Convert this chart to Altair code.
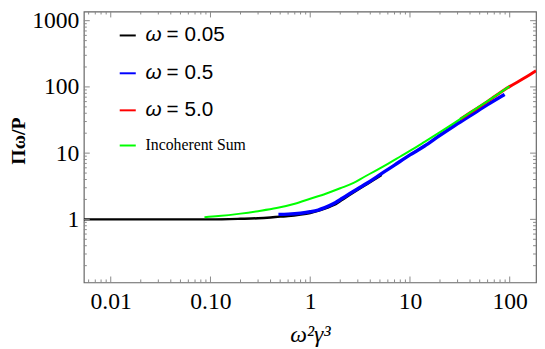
import altair as alt
import pandas as pd
import numpy as np

# ---- data ----
black_x = [0.0054, 0.02, 0.1, 0.2, 0.3, 0.4, 0.5, 0.6, 0.8, 1.0, 1.2, 1.4, 1.6, 1.8, 2.1, 2.5, 3.0, 3.7, 4.45, 5.2]
black_y = [1.0, 1.0, 1.0, 1.02, 1.04, 1.07, 1.1, 1.12, 1.18, 1.25, 1.34, 1.45, 1.57, 1.7, 1.98, 2.35, 2.8, 3.4, 4.05, 4.7]

blue_x = [0.48, 0.6, 0.8, 1.0, 1.2, 1.4, 1.6, 1.8, 2.1, 2.5, 3.0, 3.7, 4.45, 5.5, 7.0, 10.0, 14.0, 20.0, 27.4, 40.0, 60.0, 89.0]
blue_y = [1.19, 1.2, 1.24, 1.3, 1.38, 1.5, 1.64, 1.8, 2.08, 2.45, 2.9, 3.5, 4.2, 5.2, 6.6, 9.4, 12.8, 18.6, 25.5, 36.5, 54.0, 77.0]

green_x = [0.087, 0.12, 0.2, 0.3, 0.46, 0.7, 1.0, 1.43, 2.0, 2.72, 3.5, 4.45, 6.0, 8.0, 11.0, 14.0, 20.0, 27.4, 40.0, 60.0, 99.5]
green_y = [1.08, 1.12, 1.22, 1.33, 1.48, 1.72, 2.05, 2.44, 2.95, 3.55, 4.4, 5.36, 6.9, 8.9, 11.8, 14.8, 20.8, 28.2, 41.0, 61.0, 102.0]

red_x = [31.9, 40.0, 60.0, 99.5, 140.0, 183.5]
red_y = [32.5, 40.6, 60.5, 101.0, 136.0, 176.0]

series_names = ["ω = 0.05", "ω = 0.5", "ω = 5.0", "Incoherent Sum"]
legend_values = ["= 0.05", "= 0.5", "= 5.0"]
series_colors = ["#000000", "#0000ff", "#ff0000", "#00ff00"]

x_tick_values = [0.01, 0.1, 1, 10, 100]
x_tick_labels = ["0.01", "0.10", "1", "10", "100"]
y_tick_values = [1, 10, 100, 1000]
y_tick_labels = ["1", "10", "100", "1000"]

# ---- layout ----
W, H = 459, 275
XDOM = [0.005376, 183.5]
YDOM = [0.1116, 1375]
FRAME = "#666666"
TICK = "#888888"
SERIF = "Liberation Serif"

xscale = alt.Scale(type="log", domain=XDOM, nice=False)
yscale = alt.Scale(type="log", domain=YDOM, nice=False)

x_label_expr = "[" + ",".join("'%s'" % s for s in x_tick_labels) + "][round(log(datum.value)/LN10)+2]"
y_label_expr = "[" + ",".join("'%s'" % s for s in y_tick_labels) + "][round(log(datum.value)/LN10)]"

xaxis = alt.Axis(values=x_tick_values, labelExpr=x_label_expr, ticks=False, domain=False, grid=False,
                 labelFont=SERIF, labelFontSize=24, labelColor="#000", labelPadding=7,
                 title="ω²γ³", titleFont=SERIF, titleFontSize=24, titleFontStyle="italic",
                 titleFontWeight="normal", titleColor="#000", titleX=W / 2, titleY=60,
                 titleAlign="center", titleBaseline="alphabetic")
yaxis = alt.Axis(values=y_tick_values, labelExpr=y_label_expr, ticks=False, domain=False, grid=False,
                 labelFont=SERIF, labelFontSize=24, labelColor="#000", labelPadding=5,
                 title="Πω/P", titleFont=SERIF, titleFontSize=20, titleFontWeight="bold",
                 titleColor="#000", titleAngle=270, titleX=-66, titleY=131,
                 titleAlign="center", titleBaseline="middle")


def line(xs, ys, color, width):
    df = pd.DataFrame({"x": xs, "y": ys})
    return alt.Chart(df).mark_line(color=color, strokeWidth=width, interpolate="monotone", clip=True).encode(
        x=alt.X("x:Q", scale=xscale, axis=xaxis),
        y=alt.Y("y:Q", scale=yscale, axis=yaxis),
    )


layers = [
    line(black_x, black_y, series_colors[0], 2.5),
    line(blue_x, blue_y, series_colors[1], 3.5),
    line(red_x, red_y, series_colors[2], 3),
    line(green_x, green_y, series_colors[3], 2),
]

# ---- inward frame ticks ----
def minor_list(lo, hi):
    out = []
    for k in range(-4, 4):
        for m in range(2, 10):
            v = m * 10.0 ** k
            if lo < v < hi:
                out.append(v)
    return out

x_minor = minor_list(*XDOM)
y_minor = minor_list(*YDOM)
y_major_all = [v for v in [0.1, 1, 10, 100, 1000] if YDOM[0] < v < YDOM[1]]

for vals, ln in [(x_tick_values, 6), (x_minor, 3)]:
    d = pd.DataFrame({"x": vals})
    for y0, y1 in [(H, H - ln), (0, ln)]:
        layers.append(alt.Chart(d).mark_rule(color=TICK, strokeWidth=1).encode(
            x=alt.X("x:Q", scale=xscale, axis=xaxis), y=alt.value(y0), y2=alt.value(y1)))
for vals, ln in [(y_major_all, 6), (y_minor, 3)]:
    d = pd.DataFrame({"y": vals})
    for x0, x1 in [(0, ln), (W, W - ln)]:
        layers.append(alt.Chart(d).mark_rule(color=TICK, strokeWidth=1).encode(
            y=alt.Y("y:Q", scale=yscale, axis=yaxis), x=alt.value(x0), x2=alt.value(x1)))

# ---- legend ----
leg_y = [24.3, 62.7, 100.3, 136.0]
one = pd.DataFrame({"a": [0]})
for i in range(4):
    col = series_colors[i]
    layers.append(alt.Chart(one).mark_rule(color=col, strokeWidth=2).encode(
        x=alt.value(36.4), x2=alt.value(52.7), y=alt.value(leg_y[i])))
for i in range(3):
    layers.append(alt.Chart(pd.DataFrame({"t": ["ω"]})).mark_text(
        font="Liberation Sans", fontSize=21, fontStyle="italic", align="left", baseline="middle", color="#000"
    ).encode(text="t:N", x=alt.value(62.7), y=alt.value(leg_y[i])))
    layers.append(alt.Chart(pd.DataFrame({"t": [legend_values[i]]})).mark_text(
        font="Liberation Sans", fontSize=21, align="left", baseline="middle", color="#000"
    ).encode(text="t:N", x=alt.value(84), y=alt.value(leg_y[i])))
layers.append(alt.Chart(pd.DataFrame({"t": [series_names[3]]})).mark_text(
    font=SERIF, fontSize=16, align="left", baseline="middle", color="#000"
).encode(text="t:N", x=alt.value(62.7), y=alt.value(leg_y[3])))

chart = alt.layer(*layers).properties(
    width=W, height=H,
    autosize=alt.AutoSizeParams(type="none"),
    padding={"left": 77, "top": 1, "right": 1, "bottom": 65},
    background="white",
).configure_view(
    stroke=FRAME, strokeWidth=1.2
).configure_axis(
    labelFont=SERIF, titleFont=SERIF, labelFontSize=24
)

chart.save("out.html", embed_options={"renderer": "svg", "actions": False})
